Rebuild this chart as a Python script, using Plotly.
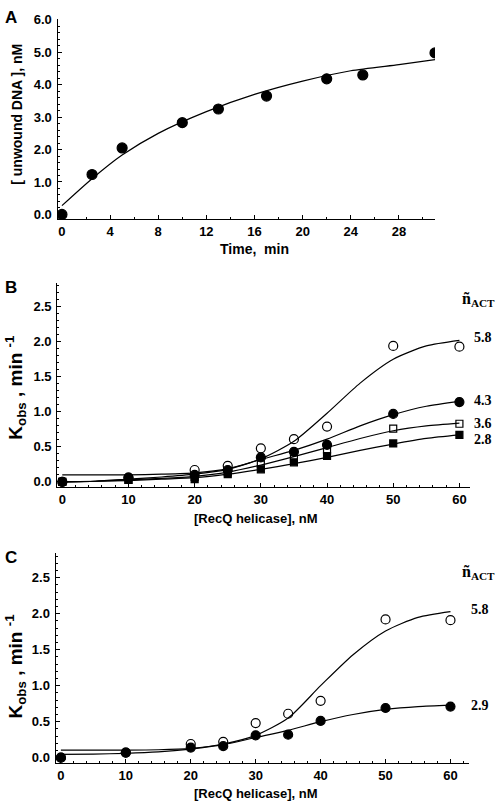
import plotly.graph_objects as go

W, H = 500, 804

# ---------------- Panel A data ----------------
a_time = [0, 2.5, 5, 10, 13, 17, 22, 25, 31]
a_dna = [0.0, 1.23, 2.05, 2.83, 3.25, 3.65, 4.18, 4.30, 4.98]
a_fit_t = [0, 2.5, 5, 8, 12, 16, 20, 24, 28, 31]
a_fit_y = [0.27, 1.10, 1.83, 2.50, 3.17, 3.70, 4.11, 4.43, 4.62, 4.77]

# ---------------- Panel B data ----------------
b_x = [0, 10, 20, 25, 30, 35, 40, 50, 60]
b_open_circ = [0.0, 0.06, 0.17, 0.23, 0.48, 0.61, 0.79, 1.94, 1.93]
b_fill_circ = [0.0, 0.06, 0.10, 0.17, 0.35, 0.43, 0.53, 0.97, 1.14]
b_open_sq = [0.0, 0.03, 0.07, 0.14, 0.25, 0.33, 0.46, 0.76, 0.83]
b_fill_sq = [0.0, 0.03, 0.04, 0.11, 0.18, 0.28, 0.37, 0.55, 0.67]

fit_x = [0, 5, 10, 15, 20, 25, 30, 35, 40, 45, 50, 55, 60]
b_fit_58 = [0.10, 0.10, 0.10, 0.11, 0.13, 0.19, 0.33, 0.58, 0.98, 1.41, 1.75, 1.94, 2.02]
b_fit_43 = [0.00, 0.01, 0.04, 0.07, 0.11, 0.18, 0.32, 0.45, 0.61, 0.80, 0.96, 1.08, 1.15]
b_fit_36 = [0.00, 0.01, 0.03, 0.05, 0.08, 0.14, 0.24, 0.36, 0.49, 0.62, 0.73, 0.80, 0.84]
b_fit_28 = [0.00, 0.01, 0.02, 0.04, 0.06, 0.11, 0.18, 0.26, 0.35, 0.45, 0.54, 0.62, 0.67]
b_labels = ["5.8", "4.3", "3.6", "2.8"]

# ---------------- Panel C data ----------------
c_x = [0, 10, 20, 25, 30, 35, 40, 50, 60]
c_open_circ = [0.0, 0.07, 0.19, 0.22, 0.48, 0.61, 0.79, 1.92, 1.91]
c_fill_circ = [0.0, 0.07, 0.14, 0.16, 0.31, 0.32, 0.51, 0.69, 0.71]
c_fit_58 = [0.105, 0.105, 0.105, 0.11, 0.13, 0.19, 0.31, 0.55, 1.00, 1.43, 1.76, 1.95, 2.03]
c_fit_29 = [0.046, 0.05, 0.06, 0.08, 0.12, 0.18, 0.28, 0.38, 0.50, 0.60, 0.67, 0.71, 0.73]
c_labels = ["5.8", "2.9"]

SANS = "Liberation Sans, Arial, sans-serif"
SERIF = "Liberation Serif, Times New Roman, serif"

fig = go.Figure()

def line(x, y, xa, ya):
    fig.add_trace(go.Scatter(x=x, y=y, mode="lines", line=dict(color="black", width=1.2, shape="spline", smoothing=0.7),
                             xaxis=xa, yaxis=ya, showlegend=False, hoverinfo="skip"))

def pts(x, y, xa, ya, symbol, size):
    fig.add_trace(go.Scatter(x=x, y=y, mode="markers",
                             marker=dict(symbol=symbol, size=size, color="black",
                                         line=dict(color="black", width=1.2)),
                             xaxis=xa, yaxis=ya, showlegend=False))

# Panel A
line(a_fit_t, a_fit_y, "x", "y")
pts(a_time, a_dna, "x", "y", "circle", 10)

# Panel B
for yy in [b_fit_58, b_fit_43, b_fit_36, b_fit_28]:
    line(fit_x, yy, "x2", "y2")
pts(b_x, b_fill_sq, "x2", "y2", "square", 7)
pts(b_x, b_open_sq, "x2", "y2", "square-open", 7)
pts(b_x, b_fill_circ, "x2", "y2", "circle", 9)
pts(b_x, b_open_circ, "x2", "y2", "circle-open", 9)

# Panel C
for yy in [c_fit_58, c_fit_29]:
    line(fit_x, yy, "x3", "y3")
pts(c_x, c_fill_circ, "x3", "y3", "circle", 9)
pts(c_x, c_open_circ, "x3", "y3", "circle-open", 9)

tickfont = dict(family=SANS, size=13, color="black", weight="bold")

def xax(domain, rng, dtick, minor_dtick, anchor):
    return dict(domain=domain, range=rng, dtick=dtick, tick0=0, anchor=anchor,
                showline=True, linecolor="black", linewidth=1.3, showgrid=False, zeroline=False,
                ticks="inside", ticklen=4, tickwidth=1, tickcolor="black", tickfont=tickfont,
                minor=dict(dtick=minor_dtick, tick0=0, ticks="inside", ticklen=2, tickcolor="black", tickwidth=1),
                fixedrange=True)

def yax(domain, rng, dtick, minor_dtick, anchor, fmt=".1f"):
    return dict(domain=domain, range=rng, dtick=dtick, tick0=0, anchor=anchor, tickformat=fmt,
                showline=True, linecolor="black", linewidth=1.3, showgrid=False, zeroline=False,
                ticks="inside", ticklen=4, tickwidth=1, tickcolor="black", tickfont=tickfont,
                ticklabelstandoff=2,
                minor=dict(dtick=minor_dtick, tick0=0, ticks="inside", ticklen=2, tickcolor="black", tickwidth=1),
                fixedrange=True)

def px2x(px):
    return px / W

def py2y(py):
    return 1 - py / H

fig.update_layout(
    width=W, height=H, margin=dict(l=0, r=0, t=0, b=0),
    paper_bgcolor="white", plot_bgcolor="white", showlegend=False,
    xaxis=xax([px2x(57.5), px2x(435)], [-0.37, 31.0], 4, 2, "y"),
    yaxis=yax([py2y(215.7), py2y(13)], [-0.15, 6.03], 1, 0.2, "x"),
    xaxis2=xax([px2x(57.3), px2x(470)], [-0.75, 61.6], 10, 2, "y2"),
    yaxis2=yax([py2y(486.7), py2y(280)], [-0.076, 2.84], 0.5, 0.1, "x2"),
    xaxis3=xax([px2x(55.7), px2x(469.3)], [-0.8, 62.9], 10, 2, "y3"),
    yaxis3=yax([py2y(766), py2y(552.7)], [-0.08, 2.85], 0.5, 0.1, "x3"),
)

ann = []

def text(px, py, s, size, family=SANS, bold=True, angle=0, xanchor="center"):
    ann.append(dict(x=px2x(px), y=py2y(py), xref="paper", yref="paper", text=s, showarrow=False,
                    xanchor=xanchor, yanchor="middle", textangle=angle,
                    font=dict(family=family, size=size, color="black", weight="bold" if bold else "normal")))

# panel letters
text(11, 12, "A", 17)
text(11, 285, "B", 17)
text(11, 558, "C", 17)

# axis titles
text(254, 246, "Time,  min", 14)
text(17, 110, "[ unwound DNA ], nM", 14, angle=-90)
text(256, 518, "[RecQ helicase], nM", 13)
text(256, 796, "[RecQ helicase], nM", 13)
text(16, 386, "K<sub>obs</sub> , min <sup>-1</sup>", 19, angle=-90)
text(16, 668, "K<sub>obs</sub> , min <sup>-1</sup>", 19, angle=-90)

# n_ACT headers
text(478, 297, "ñ<sub>ACT</sub>", 16, family=SERIF)
text(478, 573, "ñ<sub>ACT</sub>", 16, family=SERIF)

# curve labels B
for lab, py in zip(b_labels, [335, 399, 422, 438]):
    text(472, py, lab, 14, family=SERIF, xanchor="left")
# curve labels C
for lab, py in zip(c_labels, [610, 707]):
    text(469, py, lab, 14, family=SERIF, xanchor="left")

fig.update_layout(annotations=ann)

fig.write_html("out.html", config={"displayModeBar": False},
               post_script="document.body.style.margin='0';document.body.style.padding='0';document.body.style.overflow='hidden';")
